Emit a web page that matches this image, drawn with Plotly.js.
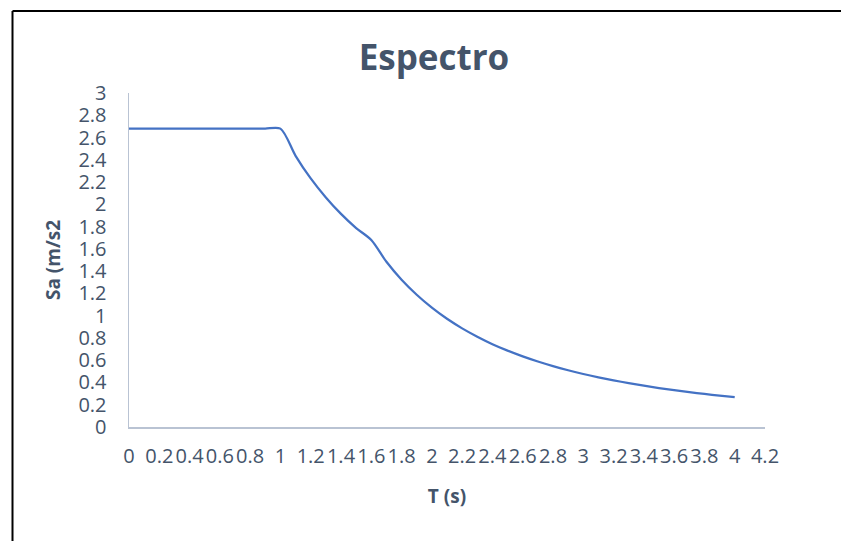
<!DOCTYPE html>
<html>
<head>
<meta charset="utf-8">
<script src="https://cdn.plot.ly/plotly-3.0.1.min.js"></script>
<style>html,body{margin:0;padding:0;background:#fff;}#chart{width:841px;height:541px;}</style>
</head>
<body>
<div id="chart"></div>
<script>
// Period T (s)
const periodT = [0.0, 0.1, 0.2, 0.3, 0.4, 0.5, 0.6, 0.7, 0.8, 0.9, 1.0,
  1.1, 1.2, 1.3, 1.4, 1.5, 1.6, 1.7, 1.8, 1.9, 2.0,
  2.1, 2.2, 2.3, 2.4, 2.5, 2.6, 2.7, 2.8, 2.9, 3.0,
  3.1, 3.2, 3.3, 3.4, 3.5, 3.6, 3.7, 3.8, 3.9, 4.0];
// Spectral acceleration Sa (m/s2)
const saValues = [2.680, 2.680, 2.680, 2.680, 2.680, 2.680, 2.680, 2.680, 2.680, 2.680, 2.680,
  2.436, 2.233, 2.062, 1.914, 1.787, 1.680, 1.484, 1.323, 1.188, 1.072,
  0.972, 0.886, 0.811, 0.744, 0.686, 0.634, 0.588, 0.547, 0.510, 0.476,
  0.446, 0.419, 0.394, 0.371, 0.350, 0.331, 0.313, 0.297, 0.282, 0.268];

const chartTitle = "Espectro";
const xTitle = "T (s)";
const yTitle = "Sa (m/s2";

const textColor = "#44546a";
const axisColor = "#b9c3d3";

const trace = {
  x: periodT,
  y: saValues,
  type: "scatter",
  mode: "lines",
  line: {color: "#4472c4", width: 2.25, shape: "spline", smoothing: 0.8},
  hoverinfo: "x+y"
};

const layout = {
  width: 841,
  height: 541,
  margin: {l: 129, r: 76, t: 93, b: 114, pad: 0},
  paper_bgcolor: "#ffffff",
  plot_bgcolor: "#ffffff",
  showlegend: false,
  font: {family: "Open Sans, sans-serif", color: textColor},
  title: {
    text: chartTitle,
    font: {family: "Open Sans, sans-serif", size: 35, color: textColor, weight: "bold"},
    x: 434 / 841, xref: "container", xanchor: "center",
    y: 1 - 58 / 541, yref: "container", yanchor: "middle"
  },
  xaxis: {
    range: [0, 4.2],
    dtick: 0.2,
    tick0: 0,
    tickangle: 0,
    showgrid: false,
    zeroline: false,
    showline: true,
    linecolor: axisColor,
    linewidth: 1.5,
    ticks: "",
    ticklabelstandoff: 10,
    tickfont: {size: 20, color: textColor},
    title: {text: xTitle, standoff: 22, font: {size: 19, color: textColor, weight: "bold"}},
    automargin: false
  },
  yaxis: {
    range: [0, 3],
    dtick: 0.2,
    tick0: 0,
    showgrid: false,
    zeroline: false,
    showline: true,
    linecolor: axisColor,
    linewidth: 1.5,
    ticks: "",
    ticklabelstandoff: 17,
    tickfont: {size: 20, color: textColor},
    title: {text: yTitle, standoff: 12, font: {size: 19, color: textColor, weight: "bold"}},
    automargin: false
  },
  shapes: [
    {type: "line", xref: "paper", yref: "paper",
     x0: (12.5 - 129) / 636, x1: (12.5 - 129) / 636,
     y0: (427 - 541) / 334, y1: (427 - 11) / 334,
     line: {color: "#000000", width: 2}, layer: "below"},
    {type: "line", xref: "paper", yref: "paper",
     x0: (12.5 - 129) / 636, x1: (841 - 129) / 636,
     y0: (427 - 11) / 334, y1: (427 - 11) / 334,
     line: {color: "#000000", width: 2}, layer: "below"}
  ]
};

Plotly.newPlot("chart", [trace], layout, {displayModeBar: false, staticPlot: true});
</script>
</body>
</html>
